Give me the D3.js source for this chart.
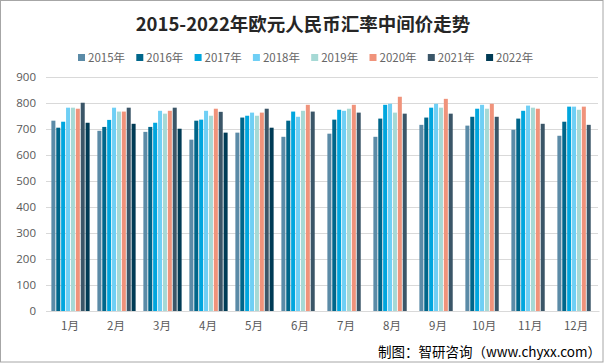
<!DOCTYPE html>
<html><head><meta charset="utf-8">
<script src="https://cdn.jsdelivr.net/npm/d3@7"></script>
<style>html,body{margin:0;padding:0;background:#fff;}svg{display:block;}</style>
</head><body><svg id="c" width="605" height="364"></svg>
<script>
const months = ["1月","2月","3月","4月","5月","6月","7月","8月","9月","10月","11月","12月"];
const years = ["2015年","2016年","2017年","2018年","2019年","2020年","2021年","2022年"];
const v2015 = [732,693,689,659,686,670,682,670,716,713,697,674];
const v2016 = [705,708,708,732,744,732,736,740,744,747,740,728];
const v2017 = [728,735,724,736,751,767,774,793,782,778,770,786];
const v2018 = [782,782,770,770,763,747,770,797,797,793,790,786];
const v2019 = [782,767,759,751,751,770,778,763,782,778,782,774];
const v2020 = [778,767,770,778,763,793,793,824,816,797,778,786];
const v2021 = [801,782,782,766,778,767,763,759,759,747,720,716];
const v2022 = [724,720,701,686,705,null,null,null,null,null,null,null];
const yTicks = [0,100,200,300,400,500,600,700,800,900];
const colors = ["#5b8ba7","#00668a","#00a6de","#6fcff5","#a6d9d5","#f0937b","#3b5668","#003b55"];
const series = [v2015,v2016,v2017,v2018,v2019,v2020,v2021,v2022];

const svg = d3.select("#c");
const W = 605, H = 364;
svg.append("rect").attr("x",0.5).attr("y",0.5).attr("width",W-2.5).attr("height",H-2.5)
  .attr("fill","#fff").attr("stroke","#a6a6a6").attr("stroke-width",1);

const x0 = d3.scaleBand().domain(months).range([47,599]).padding(0);
const x1 = d3.scaleBand().domain(years).range([3.5,43.5]).padding(0.18);
const y = d3.scaleLinear().domain([0,900]).range([311,77]);

// gridlines
svg.append("g").selectAll("line").data(yTicks).join("line")
  .attr("x1",46).attr("x2",598)
  .attr("y1",d=>Math.round(y(d))+0.5).attr("y2",d=>Math.round(y(d))+0.5)
  .attr("stroke","#d9d9d9").attr("stroke-width",1);

// y axis labels
const yAxis = d3.axisLeft(y).tickValues(yTicks).tickSize(0).tickPadding(0);
const gy = svg.append("g").attr("transform","translate(36,0)").call(yAxis);
gy.select(".domain").remove();
gy.selectAll("text").attr("font-family","'Open Sans','Noto Sans',sans-serif").attr("font-size",11.5).attr("fill","#595959");

// bars
const data = [];
months.forEach((m,i)=>years.forEach((yr,j)=>{ if(series[j][i]!=null) data.push({m,yr,j,v:series[j][i]}); }));
svg.append("g").selectAll("rect").data(data).join("rect")
  .attr("x",d=>x0(d.m)+x1(d.yr))
  .attr("width",x1.bandwidth())
  .attr("y",d=>y(d.v))
  .attr("height",d=>y(0)-y(d.v))
  .attr("fill",d=>colors[d.j]);

// x axis
const xAxis = d3.axisBottom(x0).tickSize(0).tickPadding(11);
const gx = svg.append("g").attr("transform","translate(0,311)").call(xAxis);
gx.select(".domain").attr("stroke","#d9d9d9");
gx.selectAll("text").attr("font-family","'Noto Sans CJK SC',sans-serif").attr("font-size",11.5).attr("fill","#595959");

// title
svg.append("text").attr("x",303).attr("y",31).attr("text-anchor","middle")
  .attr("font-family","'Noto Sans CJK SC',sans-serif").attr("font-weight","bold")
  .attr("font-size",18.5).attr("fill","#262626")
  .text("2015-2022年欧元人民币汇率中间价走势");

// legend
const lg = svg.append("g").selectAll("g").data(years).join("g")
  .attr("transform",(d,i)=>`translate(${78+i*58.3},54)`);
lg.append("rect").attr("width",7).attr("height",7).attr("fill",(d,i)=>colors[i]);
lg.append("text").attr("x",10).attr("y",7.5)
  .attr("font-family","'Noto Sans CJK SC',sans-serif").attr("font-size",11.5).attr("fill","#666")
  .text(d=>d);

// footer
svg.append("text").attr("x",601).attr("y",357).attr("text-anchor","end")
  .attr("font-family","'Noto Sans CJK SC',sans-serif").attr("font-size",13.5).attr("fill","#000")
  .text("制图：智研咨询（www.chyxx.com）");
</script></body></html>
